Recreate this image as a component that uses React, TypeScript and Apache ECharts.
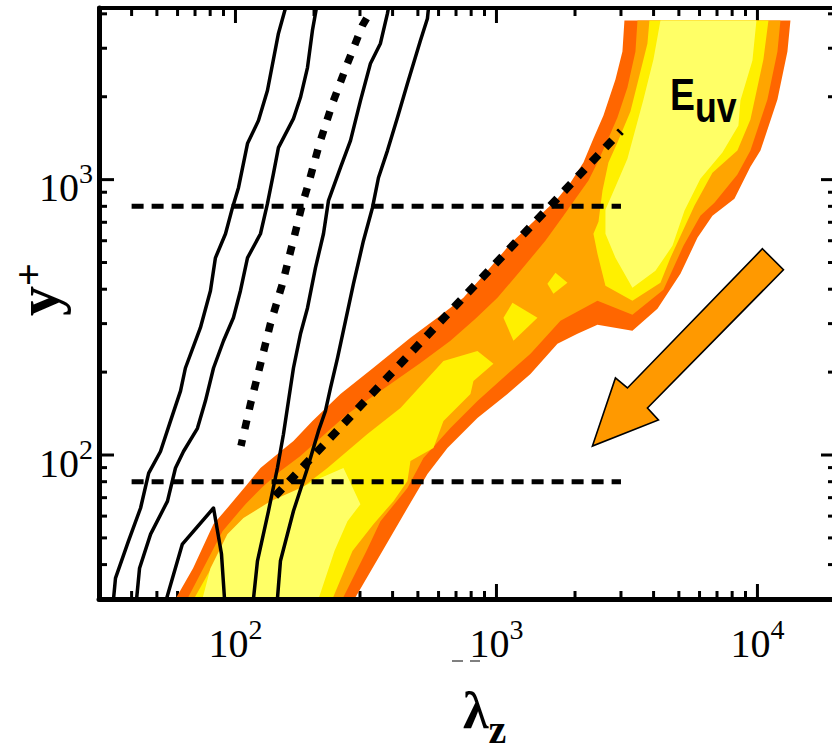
import React, { useEffect, useRef } from 'react';
import * as echarts from 'echarts';

const SERIF = "'Liberation Serif', 'Times New Roman', serif";
const SANS = "'Liberation Sans', Arial, sans-serif";

const X_MIN = 30;
const X_MAX = 20000;
const Y_MIN = 30;
const Y_MAX = 4200;

const X_LABEL_TICKS = [100, 1000, 10000];
const Y_LABEL_TICKS = [100, 1000];
const X_MINOR_TICKS = [40, 50, 60, 70, 80, 90, 200, 300, 400, 500, 600, 700, 800, 900, 2000, 3000, 4000, 5000, 6000, 7000, 8000, 9000];
const Y_MINOR_TICKS = [40, 50, 60, 70, 80, 90, 200, 300, 400, 500, 600, 700, 800, 900, 2000, 3000, 4000];

// black solid contour lines
const CURVE_A = [[34.1, 30], [34.7, 35.7], [38.9, 48.7], [43.3, 64.2], [46.5, 86], [51.6, 103], [56.4, 133], [61.6, 171], [64.3, 207], [73.4, 290], [80.2, 395], [83.8, 520], [91.6, 636], [97.4, 791], [102.7, 935], [111.2, 1352], [122.5, 1638], [132.6, 2107], [146.1, 3396], [155.5, 4200]];
const CURVE_B = [[41.8, 30], [42.9, 38.8], [47.3, 51.6], [54.9, 68], [58.9, 89.7], [63.2, 103], [71.5, 125], [76.7, 157], [82.4, 207], [90, 260], [98.2, 315], [104.5, 395], [111.2, 520], [124.7, 636], [132.6, 818], [139.8, 1051], [146.1, 1307], [166.8, 1666], [177.4, 1986], [188.8, 2553], [197.2, 3482], [204.3, 4200]];
const CURVE_C = [[117.2, 30], [121.4, 41.2], [133.8, 62.6], [144.8, 89.7], [152.7, 119], [159.6, 157], [166.8, 207], [177.4, 275], [188.8, 342], [202.6, 479], [217.4, 636], [227.2, 839], [252.5, 1106], [275.9, 1386], [301.3, 1937], [329, 2642], [359.3, 3123], [382.3, 4015], [385.7, 4200]];
const CURVE_D = [[144.8, 30], [148.7, 41.2], [166.8, 62.6], [188.8, 89.7], [208, 122.3], [221.2, 144.5], [231.2, 175], [246, 225], [264, 307], [283.3, 419], [309.3, 600], [334.9, 791], [353.1, 1016], [382.3, 1275], [417.6, 1680], [456, 2234], [511.4, 3202], [544, 3850], [549, 4200]];
const CURVE_E = [[54.4, 30], [62.6, 47.5], [82.4, 64.2], [88.4, 43.7], [90.8, 30]];

// reference lines
const DASH_800 = [[40, 800], [3000, 800]];
const DASH_80 = [[40, 80], [3000, 80]];
const DOT_STEEP = [[318, 3850], [306.6, 3631], [268.6, 2642], [235.3, 1890], [209.8, 1352], [190.5, 967], [180.6, 818], [165.3, 585], [151.4, 419], [136.1, 299.5], [124.7, 214], [114.2, 153.3], [105, 108]];
const DOT_DIAG = [[142, 71], [3000, 1500]];

// filled contour levels of E_uv
const LEVEL_1 = [[58.9, 30], [68.8, 38.8], [82.3, 56.1], [93.1, 64.2], [111.2, 78.4], [124.7, 89.7], [144.9, 100.8], [166.8, 112.4], [197.2, 132.9], [252.6, 166.7], [337.8, 207.3], [468.3, 266.4], [594, 314.9], [747.3, 372.4], [923.7, 466.7], [1131, 585], [1436, 727.5], [1713, 853], [1921, 975], [2154, 1153], [2353, 1409], [2570, 1708], [2857, 2310], [3039, 2921], [3093, 3786],
  [13380, 3786], [13030, 2921], [11930, 1954], [10270, 1275], [9401, 1114], [8163, 853], [6724, 739.6], [5890, 615], [5070, 455], [4139, 339.6], [3319, 282.4], [2438, 297], [2043, 275.4], [1713, 253.3], [1350, 197], [1102, 166.7], [845.6, 136.3], [649, 106], [544.1, 85.3], [456, 64.2], [365.8, 44.8], [285.8, 30]];
const LEVEL_2 = [[65.4, 30], [75.3, 38.8], [89.2, 52.9], [109.2, 66.3], [126.9, 76.5], [148.7, 87.5], [177.4, 99.2], [211.7, 115.3], [268.6, 141], [359.4, 170.9], [511.4, 216], [666.4, 259.7], [830.7, 312.2], [1009, 372.4], [1236, 466.7], [1540, 600], [1806, 739.6], [2008, 853], [2252, 992], [2438, 1153], [2662, 1386], [2908, 1680], [3176, 2160], [3409, 2921], [3470, 3786],
  [12250, 3786], [11930, 2921], [10920, 1954], [9401, 1275], [8381, 1043], [6843, 825], [6046, 739.6], [5206, 575], [4364, 398], [3319, 322.8], [2438, 363], [1759, 307], [1350, 233], [1102, 197], [845.6, 157], [666.4, 125.4], [525.1, 97.5], [456, 75.9], [359.4, 57.5], [317.6, 44.8], [257, 30]];
const LEVEL_3_LOW = [[69.3, 30], [82.3, 40.1], [98.2, 51.6], [124.7, 62.6], [166.8, 72.1], [225.2, 89.7], [320.4, 119.2], [428.8, 148.2], [626.5, 219.7], [845.6, 238.8], [973.9, 214.3], [816.3, 185.8], [795.1, 166.7], [626.5, 132.9], [573.5, 106], [468.3, 95.1], [456, 80.4], [403.1, 68], [337.8, 56.1], [280.7, 44.8], [235.3, 30]];
const LEVEL_3_HIGH = [[3856, 3786], [3789, 3123], [3562, 2470], [3261, 1767], [2908, 1363], [2686, 1153], [2548, 912], [2460, 703], [2353, 636], [2438, 538], [2616, 411.6], [3319, 363], [4250, 422], [4642, 520.5], [5735, 804], [6724, 1060], [8381, 1275], [9401, 1652], [10540, 2730], [11020, 3786]];
const LEVEL_3_PATCH_A = [[1568, 418.6], [1683, 459], [1871, 422], [1653, 385]];
const LEVEL_3_PATCH_B = [[1064, 314.9], [1152, 357], [1436, 314.9], [1162, 259.7]];
const LEVEL_4_LOW = [[74.7, 30], [80.2, 38.8], [93.1, 51.6], [107.3, 59], [136.2, 68], [177.4, 75.9], [211.7, 82.5], [259.3, 89.7], [301.2, 66.3], [268.6, 57.5], [239.5, 44.8], [208, 30]];
const LEVEL_4_HIGH = [[4250, 3786], [3995, 2730], [3658, 1954], [3176, 1192], [2857, 943], [2616, 778], [2616, 636], [2857, 520.5], [3319, 404.8], [4066, 466.7], [4725, 575], [5252, 771.6], [6046, 1008], [7342, 1254], [8456, 1572], [8608, 1937], [9568, 2708], [9913, 3786]];

const ARROW = [[10450, 561], [12580, 470.7], [3789, 148.2], [4175, 134.1], [2332, 107.8], [2857, 190.5], [3176, 175.2]];

const COLORS = ['#FF6600', '#FFA500', '#FFF000', '#FFFF66'];

const RICH_TICK = {
  b: { fontSize: 40, lineHeight: 40, padding: [8, 0, 0, 0], verticalAlign: 'top', fontFamily: SERIF, color: '#000' },
  s: { fontSize: 28, lineHeight: 28, verticalAlign: 'top', fontFamily: SERIF, color: '#000' },
};

const makeFormatter = (ticks: number[]) => (v: number) => {
  const t = ticks.find((k) => Math.abs(k - v) / k < 1e-6);
  if (!t) return '';
  return `{b|10}{s|${Math.round(Math.log10(t))}}`;
};

const xTicks = (vals: number[], len: number) => ({
  type: 'custom', z: 1, silent: true, clip: false,
  data: vals.map((v) => [v, Y_MIN]),
  renderItem: (params: any, api: any) => {
    const cs = params.coordSys;
    const px = api.coord([api.value(0), Y_MIN])[0];
    const b = cs.y + cs.height;
    const t = cs.y;
    return {
      type: 'group', children: [
        { type: 'line', shape: { x1: px, y1: b, x2: px, y2: b - len }, style: { stroke: '#000', lineWidth: 3 } },
        { type: 'line', shape: { x1: px, y1: t, x2: px, y2: t + len }, style: { stroke: '#000', lineWidth: 3 } },
      ],
    };
  },
});

const yTicks = (vals: number[], len: number) => ({
  type: 'custom', z: 1, silent: true, clip: false,
  data: vals.map((v) => [X_MIN, v]),
  renderItem: (params: any, api: any) => {
    const cs = params.coordSys;
    const py = api.coord([X_MIN, api.value(1)])[1];
    const l = cs.x;
    const r = cs.x + cs.width;
    return {
      type: 'group', children: [
        { type: 'line', shape: { x1: l, y1: py, x2: l + len, y2: py }, style: { stroke: '#000', lineWidth: 3 } },
        { type: 'line', shape: { x1: r, y1: py, x2: r - len, y2: py }, style: { stroke: '#000', lineWidth: 3 } },
      ],
    };
  },
});

const polygon = (pts: number[][], fill: string, z: number, stroke?: string) => ({
  type: 'custom', z, silent: true, clip: true,
  data: pts,
  renderItem: (params: any, api: any) => {
    if (params.dataIndex !== 0) return null;
    return {
      type: 'polygon',
      shape: { points: pts.map((p) => api.coord(p)) },
      style: { fill, stroke: stroke || 'none', lineWidth: stroke ? 1.6 : 0 },
    };
  },
});

const line = (data: number[][], type: any, width: number, z: number) => ({
  type: 'line', data, symbol: 'none', showSymbol: false, z, silent: true,
  lineStyle: { color: '#000', width, type, cap: 'butt', join: 'round' },
  emphasis: { disabled: true },
});

export default function App() {
  const ref = useRef<HTMLDivElement>(null);
  useEffect(() => {
    if (!ref.current) return;
    const chart = echarts.init(ref.current, null, { renderer: 'svg' });
    const option: any = {
      animation: false,
      backgroundColor: '#ffffff',
      grid: { left: 99, top: 8, width: 737, height: 591, containLabel: false, outerBoundsMode: 'none' },
      xAxis: [
        {
          type: 'log', logBase: 10, min: X_MIN, max: X_MAX, position: 'bottom', z: 10,
          axisLine: { show: true, onZero: false, lineStyle: { color: '#000', width: 5 } },
          axisTick: { show: false }, minorTick: { show: false }, splitLine: { show: false },
          axisLabel: { show: true, interval: 0, margin: 16, color: '#000', formatter: makeFormatter(X_LABEL_TICKS), rich: RICH_TICK },
        },
        {
          type: 'log', logBase: 10, min: X_MIN, max: X_MAX, position: 'top', z: 10,
          axisLine: { show: true, onZero: false, lineStyle: { color: '#000', width: 4 } },
          axisTick: { show: false }, splitLine: { show: false }, axisLabel: { show: false },
        },
      ],
      yAxis: [
        {
          type: 'log', logBase: 10, min: Y_MIN, max: Y_MAX, position: 'left', z: 10,
          axisLine: { show: true, onZero: false, lineStyle: { color: '#000', width: 5 } },
          axisTick: { show: false }, minorTick: { show: false }, splitLine: { show: false },
          axisLabel: { show: true, interval: 0, margin: 6, color: '#000', formatter: makeFormatter(Y_LABEL_TICKS), rich: RICH_TICK },
        },
        {
          type: 'log', logBase: 10, min: Y_MIN, max: Y_MAX, position: 'right', z: 10,
          axisLine: { show: true, onZero: false, lineStyle: { color: '#000', width: 5 } },
          axisTick: { show: false }, splitLine: { show: false }, axisLabel: { show: false },
        },
      ],
      series: [
        xTicks(X_MINOR_TICKS, 8),
        xTicks(X_LABEL_TICKS, 15),
        yTicks(Y_MINOR_TICKS, 8),
        yTicks(Y_LABEL_TICKS, 15),
        polygon(LEVEL_1, COLORS[0], 2),
        polygon(LEVEL_2, COLORS[1], 3),
        polygon(LEVEL_3_LOW, COLORS[2], 4),
        polygon(LEVEL_3_HIGH, COLORS[2], 4),
        polygon(LEVEL_3_PATCH_A, COLORS[2], 4),
        polygon(LEVEL_3_PATCH_B, COLORS[2], 4),
        polygon(LEVEL_4_LOW, COLORS[3], 5),
        polygon(LEVEL_4_HIGH, COLORS[3], 5),
        line(CURVE_A, 'solid', 3.5, 6),
        line(CURVE_B, 'solid', 3.5, 6),
        line(CURVE_C, 'solid', 3.5, 6),
        line(CURVE_D, 'solid', 3.5, 6),
        line(CURVE_E, 'solid', 3.5, 6),
        line(DASH_800, [12, 8], 5, 7),
        line(DASH_80, [12, 8], 5, 7),
        line(DOT_STEEP, [9, 11], 7.5, 7),
        line(DOT_DIAG, [10, 10], 8, 7),
        polygon(ARROW, '#FF9900', 8, '#000'),
      ],
      graphic: [
        {
          type: 'text', x: 8, y: 316, rotation: Math.PI / 2, z: 20,
          style: {
            text: '{a|y}{b|+}', align: 'left', verticalAlign: 'top', fill: '#000',
            rich: {
              a: { fontSize: 60, lineHeight: 44, fontWeight: 'bold', fontFamily: SERIF, verticalAlign: 'top', fill: '#000' },
              b: { fontSize: 40, lineHeight: 24, fontWeight: 'bold', fontFamily: SERIF, verticalAlign: 'top', fill: '#000' },
            },
          },
        },
        {
          type: 'text', x: 463, y: 684, z: 20,
          style: {
            text: '{l|λ}{z|z}', align: 'left', verticalAlign: 'top', fill: '#000',
            rich: {
              l: { fontSize: 52, lineHeight: 52, fontWeight: 'bold', fontFamily: SERIF, verticalAlign: 'top', fill: '#000' },
              z: { fontSize: 40, lineHeight: 40, padding: [25, 0, 0, 0], fontWeight: 'bold', fontFamily: SERIF, verticalAlign: 'top', fill: '#000' },
            },
          },
        },
        {
          type: 'text', x: 670, y: 73, scaleX: 0.85, z: 20,
          style: {
            text: '{e|E}{u|uv}', align: 'left', verticalAlign: 'top', fill: '#000',
            rich: {
              e: { fontSize: 44, lineHeight: 44, fontWeight: 'bold', fontFamily: SANS, verticalAlign: 'top', fill: '#000' },
              u: { fontSize: 42, lineHeight: 42, padding: [13, 0, 0, 0], fontWeight: 'bold', fontFamily: SANS, verticalAlign: 'top', fill: '#000' },
            },
          },
        },
        { type: 'line', z: 20, shape: { x1: 452, y1: 661, x2: 463, y2: 661 }, style: { stroke: '#000', lineWidth: 1 } },
        { type: 'line', z: 20, shape: { x1: 470, y1: 661, x2: 480, y2: 661 }, style: { stroke: '#000', lineWidth: 1 } },
      ],
    };
    chart.setOption(option);
    return () => chart.dispose();
  }, []);
  return (
    <div style={{ position: 'fixed', left: 0, top: 0, width: 832, height: 750, overflow: 'hidden', background: '#fff' }}>
      <div ref={ref} style={{ width: 900, height: 750 }} />
    </div>
  );
}
